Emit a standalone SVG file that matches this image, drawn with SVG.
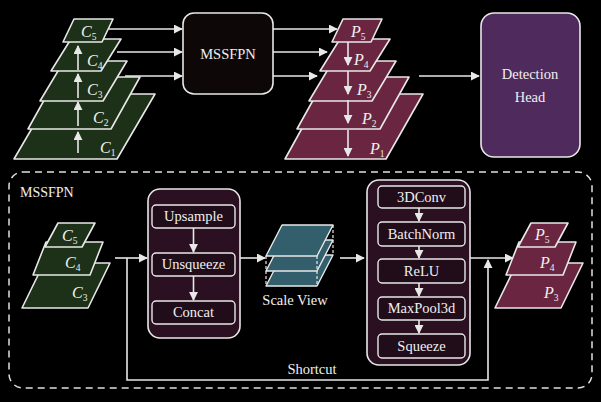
<svg xmlns="http://www.w3.org/2000/svg" width="601" height="402" viewBox="0 0 601 402" font-family="Liberation Serif, Times New Roman, serif">
<defs>
<marker id="ah" viewBox="0 0 10 10" refX="9" refY="5" markerWidth="9" markerHeight="9" markerUnits="userSpaceOnUse" orient="auto">
<path d="M0,0 L10,5 L0,10 Z" fill="#e8e8e8"/>
</marker>
<style>
.arr{stroke:#e8e8e8;stroke-width:1.6;fill:none;marker-end:url(#ah)}
.cl{fill:#1c3117;stroke:#e8e8e8;stroke-width:1.6;stroke-linejoin:round}
.pl{fill:#6a2540;stroke:#e8e8e8;stroke-width:1.6;stroke-linejoin:round}
.sv{fill:#335e6c;stroke:#e8e8e8;stroke-width:1.4;stroke-linejoin:round}
.grp{fill:#2a1020;stroke:#e8e8e8;stroke-width:1.6}
.inner{fill:#210c1a;stroke:#e8e8e8;stroke-width:1.4}
text{font-family:'Liberation Serif','Times New Roman',serif}
.t{fill:#f0f0f0;text-anchor:middle;font-size:14.5px}
.lab{fill:#f0f0f0;font-style:italic;font-size:16px}
.sub{font-style:normal;font-size:9.5px}
</style>
</defs>
<rect width="601" height="402" fill="#000"/>

<g id="connectors">
<line class="arr" x1="109" y1="29" x2="182" y2="29"/>
<line class="arr" x1="117" y1="52" x2="182" y2="52"/>
<line class="arr" x1="125" y1="76" x2="182" y2="76"/>
<line class="arr" x1="273" y1="29" x2="337" y2="29"/>
<line class="arr" x1="273" y1="52" x2="327" y2="52"/>
<line class="arr" x1="273" y1="76" x2="317" y2="76"/>
<line class="arr" x1="419" y1="76" x2="479" y2="76"/>
<line class="arr" x1="115" y1="258" x2="147" y2="258"/>
<path class="arr" d="M127,258 V380 H488 V260"/>
<line class="arr" x1="240" y1="258" x2="265" y2="258"/>
<line class="arr" x1="340" y1="258" x2="364" y2="258"/>
<line class="arr" x1="470" y1="258" x2="513" y2="258"/>
</g>

<g id="top-C-stack">
<polygon class="cl" points="52,94 155,94 117,159 14,159"/>
<polygon class="cl" points="57,77 140,77 111,129 28,129"/>
<polygon class="cl" points="64,61 127,61 103,101 40,101"/>
<polygon class="cl" points="71,39 121,39 101,71 51,71"/>
<polygon class="cl" points="74,19 113,19 102,42 63,42"/>
<text class="lab" x="100" y="153">C<tspan class="sub" dy="3">1</tspan></text>
<text class="lab" x="93" y="123">C<tspan class="sub" dy="3">2</tspan></text>
<text class="lab" x="87" y="95">C<tspan class="sub" dy="3">3</tspan></text>
<text class="lab" x="87" y="66">C<tspan class="sub" dy="3">4</tspan></text>
<text class="lab" x="81" y="37">C<tspan class="sub" dy="3">5</tspan></text>
<line class="arr" x1="78" y1="153" x2="78" y2="132"/>
<line class="arr" x1="78" y1="126" x2="78" y2="102"/>
<line class="arr" x1="78" y1="98" x2="78" y2="74"/>
<line class="arr" x1="78" y1="70" x2="78" y2="46"/>
</g>

<g id="mssfpn-box">
<rect x="183" y="13" width="90" height="81" rx="11" fill="#0d0707" stroke="#e8e8e8" stroke-width="1.6"/>
<text class="t" x="228" y="59">MSSFPN</text>
</g>

<g id="top-P-stack" transform="translate(269,0)">
<polygon class="pl" points="52,94 154,94 117,159 16,159"/>
<polygon class="pl" points="57,77 140,77 111,129 28,129"/>
<polygon class="pl" points="64,61 127,61 103,101 40,101"/>
<polygon class="pl" points="71,39 121,39 101,71 51,71"/>
<polygon class="pl" points="74,19 113,19 102,42 63,42"/>
<text class="lab" x="101" y="154">P<tspan class="sub" dy="3">1</tspan></text>
<text class="lab" x="93" y="124">P<tspan class="sub" dy="3">2</tspan></text>
<text class="lab" x="88" y="95">P<tspan class="sub" dy="3">3</tspan></text>
<text class="lab" x="85" y="65">P<tspan class="sub" dy="3">4</tspan></text>
<text class="lab" x="82" y="37">P<tspan class="sub" dy="3">5</tspan></text>
<line class="arr" x1="79" y1="42" x2="79" y2="65"/>
<line class="arr" x1="79" y1="71" x2="79" y2="94"/>
<line class="arr" x1="79" y1="100" x2="79" y2="123"/>
<line class="arr" x1="79" y1="130" x2="79" y2="156"/>
</g>

<g id="detection-head">
<rect x="481" y="13" width="99" height="144" rx="13" fill="#4f2b5d" stroke="#e8e8e8" stroke-width="1.6"/>
<text class="t" x="530" y="79" font-size="15">Detection</text>
<text class="t" x="530" y="102" font-size="15">Head</text>
</g>

<g id="mssfpn-detail">
<rect x="9" y="172" width="583" height="216" rx="14" fill="none" stroke="#e0e0e0" stroke-width="1.5" stroke-dasharray="7,5"/>
<text x="20" y="197" font-size="14" fill="#f0f0f0">MSSFPN</text>
</g>

<g id="bottom-C-stack">
<polygon class="cl" points="44,263 110,263 88,308 22,308"/>
<polygon class="cl" points="46,242 103,242 90,275 33,275"/>
<polygon class="cl" points="58,223 95,223 82,247 45,247"/>
<text class="lab" x="62" y="241">C<tspan class="sub" dy="3">5</tspan></text>
<text class="lab" x="65" y="268">C<tspan class="sub" dy="3">4</tspan></text>
<text class="lab" x="72" y="298">C<tspan class="sub" dy="3">3</tspan></text>
</g>

<g id="upsample-group">
<rect class="grp" x="148" y="189" width="92" height="149" rx="12"/>
<rect class="inner" x="152" y="205" width="83" height="23" rx="4"/>
<rect class="inner" x="152" y="253" width="83" height="23" rx="4"/>
<rect class="inner" x="152" y="301" width="83" height="23" rx="4"/>
<text class="t" x="193.5" y="221">Upsample</text>
<text class="t" x="193.5" y="269">Unsqueeze</text>
<text class="t" x="193.5" y="317">Concat</text>
<line class="arr" x1="193.5" y1="228" x2="193.5" y2="252"/>
<line class="arr" x1="193.5" y1="276" x2="193.5" y2="300"/>
</g>

<g id="scale-view">
<polygon class="sv" points="282,255 333,255 317,286 266,286"/>
<polygon class="sv" points="282,240 333,240 317,271 266,271"/>
<polygon class="sv" points="282,225 333,225 317,256 266,256"/>
<g stroke="#e8e8e8" stroke-width="1.2" stroke-dasharray="3,2">
<line x1="266" y1="256" x2="266" y2="286"/>
<line x1="317" y1="256" x2="317" y2="286"/>
<line x1="333" y1="225" x2="333" y2="255"/>
</g>
<text class="t" x="295" y="305">Scale View</text>
</g>

<g id="conv-group">
<rect class="grp" x="367" y="180" width="103" height="185" rx="12"/>
<rect class="inner" x="378" y="186" width="87" height="22" rx="4"/>
<rect class="inner" x="378" y="222" width="87" height="24" rx="4"/>
<rect class="inner" x="378" y="259" width="87" height="24" rx="4"/>
<rect class="inner" x="378" y="297" width="87" height="23" rx="4"/>
<rect class="inner" x="378" y="334" width="87" height="24" rx="4"/>
<text class="t" x="421.5" y="202">3DConv</text>
<text class="t" x="421.5" y="239">BatchNorm</text>
<text class="t" x="421.5" y="276">ReLU</text>
<text class="t" x="421.5" y="313">MaxPool3d</text>
<text class="t" x="421.5" y="351">Squeeze</text>
<line class="arr" x1="419" y1="208" x2="419" y2="221"/>
<line class="arr" x1="419" y1="246" x2="419" y2="258"/>
<line class="arr" x1="419" y1="283" x2="419" y2="296"/>
<line class="arr" x1="419" y1="320" x2="419" y2="333"/>
</g>

<g id="bottom-P-stack" transform="translate(473,0)">
<polygon class="pl" points="44,263 110,263 88,308 22,308"/>
<polygon class="pl" points="46,242 103,242 90,275 33,275"/>
<polygon class="pl" points="58,223 95,223 82,247 45,247"/>
<text class="lab" x="62" y="240">P<tspan class="sub" dy="3">5</tspan></text>
<text class="lab" x="67" y="268">P<tspan class="sub" dy="3">4</tspan></text>
<text class="lab" x="71" y="298">P<tspan class="sub" dy="3">3</tspan></text>
</g>

<g id="shortcut-label">
<text class="t" x="312" y="374">Shortcut</text>
</g>
</svg>
